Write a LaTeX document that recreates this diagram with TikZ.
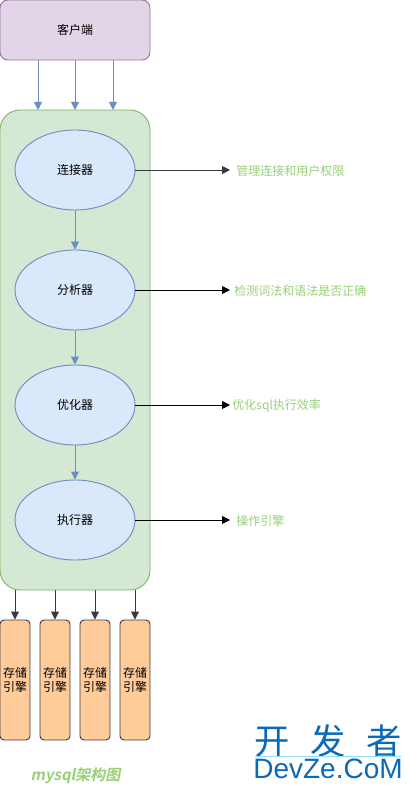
\documentclass[tikz,border=0pt]{standalone}
\usepackage{fontspec}
\setmainfont{Noto Sans CJK SC}
\newfontfamily\cjkslant[FakeSlant=0.2]{Noto Sans CJK SC Bold}
\newfontfamily\logofont{Liberation Sans}
\usepackage{tikz}
\usetikzlibrary{arrows.meta, positioning, shapes.geometric}

\definecolor{clientfill}{HTML}{E1D5E7}
\definecolor{clientline}{HTML}{9673A6}
\definecolor{boxfill}{HTML}{D5E8D4}
\definecolor{boxline}{HTML}{82B366}
\definecolor{stepfill}{HTML}{DAE8FC}
\definecolor{stepline}{HTML}{6C8EBF}
\definecolor{enginefill}{HTML}{FFCC99}
\definecolor{engineline}{HTML}{36393D}
\definecolor{notegreen}{HTML}{97D077}
\definecolor{logoblue}{HTML}{0A6AB8}

\tikzset{
  every path/.style={line width=0.7pt},
  stepnode/.style={draw=stepline, fill=stepfill, ellipse, minimum width=90pt, minimum height=60pt, inner sep=0pt, font=\fontsize{9}{11}\selectfont},
  enginenode/.style={draw=engineline, fill=enginefill, rounded corners=3pt, minimum width=22.5pt, minimum height=90pt, inner sep=0pt, align=center, font=\fontsize{9}{10}\selectfont},
  notenode/.style={text=notegreen, anchor=west, inner sep=0pt, yshift=-0.6pt, font=\fontsize{9}{11}\selectfont},
  blueline/.style={draw=stepline, -{Triangle[length=6pt, width=6pt]}},
  darkline/.style={draw=engineline, -{Triangle[length=6pt, width=6pt]}},
}

\begin{document}
\begin{tikzpicture}[x=0.75pt, y=-0.75pt]
  \useasboundingbox (0,0) rectangle (411,791);

  % 客户端和外框
  \node[draw=clientline, fill=clientfill, rounded corners=6pt, minimum width=112.5pt, minimum height=45pt, inner sep=0pt, font=\fontsize{9}{11}\selectfont] (client) at (75,30) {客户端};
  \node[draw=boxline, fill=boxfill, rounded corners=15pt, minimum width=112.5pt, minimum height=360pt, inner sep=0pt] (server) at (75,350) {};

  % 客户端到外框
  \foreach \i/\x in {1/38,2/75,3/113} {
    \coordinate (cout\i) at (\x,60);
    \coordinate (cin\i) at (\x,110);
    \draw[blueline] (cout\i) -- (cin\i);
  }

  % 四个组件和右侧说明
  \foreach \i/\y/\x/\txt in {1/170/236/管理连接和用户权限,2/290/234/检测词法和语法是否正确,3/405/232/优化sql执行效率,4/520/236/操作引擎} {
    \coordinate (tip\i) at (230,\y);
    \node[notenode] (note\i) at (\x,\y) {\txt};
  }
  \node[stepnode] (conn) at (75,170) {连接器};
  \node[stepnode] (parser) at (75,290) {分析器};
  \node[stepnode] (optimizer) at (75,405) {优化器};
  \node[stepnode] (executor) at (75,520) {执行器};

  \draw[blueline] (conn) -- (parser);
  \draw[blueline] (parser) -- (optimizer);
  \draw[blueline] (optimizer) -- (executor);

  \draw[darkline] (conn) -- (tip1);
  \draw[-{Triangle[length=6pt, width=6pt]}] (parser) -- (tip2);
  \draw[-{Triangle[length=6pt, width=6pt]}] (optimizer) -- (tip3);
  \draw[-{Triangle[length=6pt, width=6pt]}] (executor) -- (tip4);

  % 存储引擎
  \foreach \i/\x in {1/15,2/55,3/95,4/135} {
    \node[enginenode] (engine\i) at (\x,680) {存储\\引擎};
    \coordinate (eout\i) at (\x,590);
    \draw[darkline] (eout\i) -- (engine\i);
  }

  \node[text=notegreen, inner sep=0pt, font=\fontsize{11.25}{13}\cjkslant] (title) at (75.5,776) {mysql架构图};

  % 水印
  \node[text=logoblue, inner sep=0pt, font=\fontsize{26.5}{29}\selectfont] (logocn) at (328,741) {开\hspace{0.58em}发\hspace{0.58em}者};
  \node[text=logoblue, inner sep=0pt, font=\fontsize{21}{24}\logofont] (logoen) at (328,769) {DevZe.CoM};
  \draw[cyan!40] (255,756.5) -- (401,756.5);
\end{tikzpicture}
\end{document}
